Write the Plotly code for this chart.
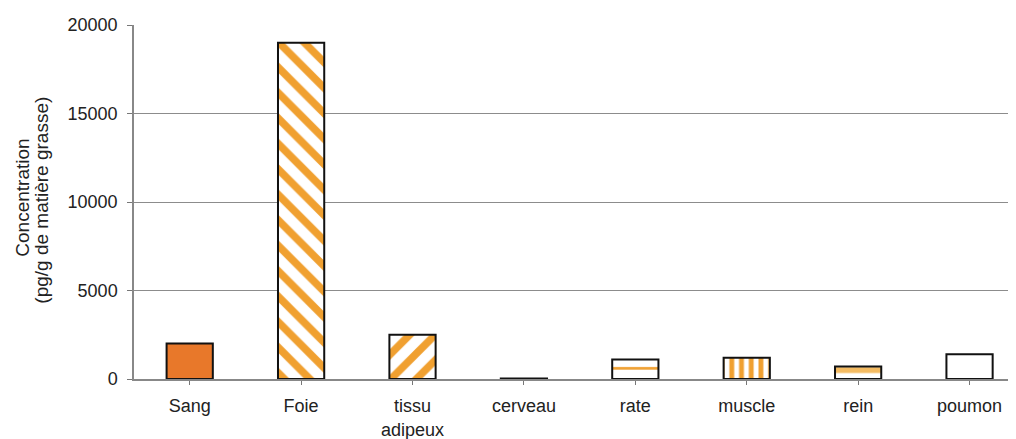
import plotly.graph_objects as go

categories = ["Sang", "Foie", "tissu<br>adipeux", "cerveau", "rate", "muscle", "rein", "poumon"]
values = [2000, 19000, 2500, 30, 1100, 1200, 700, 1400]
y_ticks = [0, 5000, 10000, 15000, 20000]

ORANGE = "#E8782A"
STRIPE = "#F0A030"

fill_colors = [ORANGE, "white", "white", "white", "white", "white", "white", "white"]
pat_shapes = ["", "\\", "/", "", "-", "|", "-", ""]
pat_colors = [STRIPE, STRIPE, STRIPE, STRIPE, STRIPE, STRIPE, "#F4BB62", STRIPE]
pat_sizes = [8, 18, 18, 8, 22.15, 9.72, 22.26, 8]
pat_solidity = [0.3, 0.42, 0.42, 0.3, 0.12, 0.5, 0.27, 0.3]

fig = go.Figure()
for i, cat in enumerate(categories):
    fig.add_trace(go.Bar(
        x=[i], y=[values[i]], width=0.415,
        marker=dict(
            color=fill_colors[i],
            line=dict(color="#111111", width=2),
            pattern=dict(shape=pat_shapes[i], fgcolor=pat_colors[i], fgopacity=1,
                         size=pat_sizes[i], solidity=pat_solidity[i]),
        ),
        showlegend=False, name=cat.replace("<br>", " "),
    ))

# body margin of the html page is 8px -> figure drawn at (8, 8)
fig.update_layout(
    width=1008, height=431,
    margin=dict(l=126.3, r=0, t=17, b=60),
    paper_bgcolor="white", plot_bgcolor="white",
    font=dict(family="Liberation Sans, Arial", size=18, color="#222222"),
    barmode="overlay",
)
fig.update_xaxes(
    range=[-0.5, 7.417],
    tickmode="array", tickvals=list(range(len(categories))), ticktext=categories,
    ticks="outside", ticklen=4, tickcolor="#777777", tickson="boundaries",
    ticklabelstandoff=6,
    showline=True, linecolor="#888888", linewidth=1.5,
    showgrid=False, zeroline=False,
)
fig.update_yaxes(
    range=[0, 20000],
    tickmode="array", tickvals=y_ticks, ticktext=[str(v) for v in y_ticks],
    ticks="outside", ticklen=5, tickcolor="#777777",
    ticklabelstandoff=6,
    showline=True, linecolor="#888888", linewidth=1.5,
    showgrid=True, gridcolor="#8c8c8c", gridwidth=1,
    zeroline=False,
)
title_lines = ["Concentration", "(pg/g de matière grasse)"]
title_shifts = [-112.3, -93.3]
title_yshifts = [4, 2]
for txt, xs, ys in zip(title_lines, title_shifts, title_yshifts):
    fig.add_annotation(
        text=txt, xref="paper", yref="paper", x=0, y=0.5,
        xanchor="center", yanchor="middle", textangle=-90,
        xshift=xs, yshift=ys, showarrow=False,
        font=dict(size=19, color="#222222"),
    )

fig.write_html("out.html")
